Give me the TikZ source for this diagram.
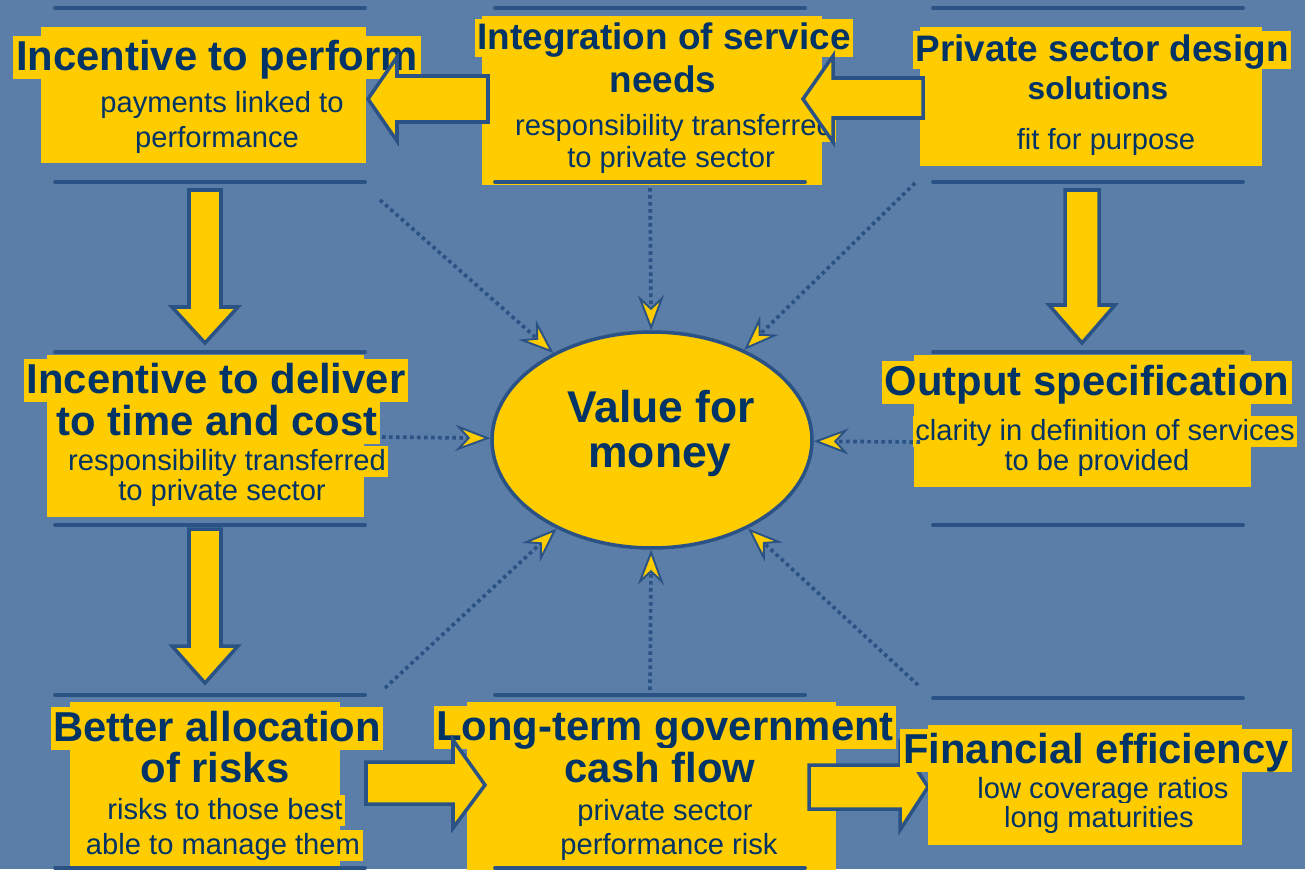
\documentclass[tikz,border=0pt]{standalone}
\usepackage{fontspec}
\setmainfont{Liberation Sans}
\usetikzlibrary{arrows.meta,fit,shapes.geometric}
\definecolor{bgblue}{RGB}{90,126,168}
\definecolor{edgeblue}{RGB}{42,82,132}
\definecolor{vfmyellow}{RGB}{255,204,0}
\definecolor{navy}{RGB}{0,51,102}

\begin{document}
\begin{tikzpicture}[x=0.02cm, y=-0.02cm,
  panel/.style={fill=vfmyellow, inner sep=0pt},
  head/.style={fill=vfmyellow, text=navy, anchor=base, inner xsep=1.5pt, inner ysep=0pt,
    font=\bfseries\fontsize{23.8}{26}\selectfont, text height=19.6pt, text depth=5pt},
  subhead/.style={head, font=\bfseries\fontsize{21}{23}\selectfont, text height=17.2pt, text depth=4.3pt},
  note/.style={head, font=\fontsize{16.6}{18}\selectfont, text height=13.8pt, text depth=4pt},
  hubtext/.style={text=navy, anchor=base, font=\bfseries\fontsize{25.3}{28}\selectfont},
  rule/.style={draw=edgeblue, line width=2.1pt, line cap=round},
  fatarrow/.style={fill=vfmyellow, draw=edgeblue, line width=2pt},
  link/.style={draw=edgeblue, line width=2.1pt, dash pattern=on 2pt off 2pt,
    -{Stealth[length=20pt, width=15pt, inset=7pt, fill=vfmyellow, line width=1.1pt]}},
  hub/.style={ellipse, fill=vfmyellow, draw=edgeblue, line width=2pt,
    minimum width=6.4cm, minimum height=4.32cm}]
  \useasboundingbox (0,0) rectangle (1305,869);
  \fill[bgblue] (0,0) rectangle (1305,869);

  % Incentive to perform
  \node[panel, fit={(41,27) (366,163)}] (perform) {};
  \node[head] (performT) at (217,70) {Incentive to perform};
  \node[note] (performA) at (222,112) {payments linked to};
  \node[note] (performB) at (217,147) {performance};

  % Integration of service needs
  \node[panel, fit={(482,16) (822,185)}] (integr) {};
  \node[subhead] (integrT) at (664,49) {Integration of service};
  \node[subhead] (integrU) at (663,92) {needs};
  \node[note] (integrA) at (674,135) {responsibility transferred};
  \node[note] (integrB) at (671,167) {to private sector};

  % Private sector design solutions
  \node[panel, fit={(920,27) (1262,166)}] (design) {};
  \node[subhead] (designT) at (1102,61) {Private sector design};
  \node[subhead, font=\bfseries\fontsize{18}{20}\selectfont] (designU) at (1098,99) {solutions};
  \node[note] (designA) at (1106,149) {fit for purpose};

  % Incentive to deliver
  \node[panel, fit={(47,355) (364,517)}] (deliver) {};
  \node[head] (deliverT) at (216,393) {Incentive to deliver\ };
  \node[head] (deliverU) at (217,435) {to time and cost};
  \node[note] (deliverA) at (227,470) {responsibility transferred};
  \node[note] (deliverB) at (222,500) {to private sector};

  % Output specification
  \node[panel, fit={(914,355) (1251,487)}] (output) {};
  \node[head] (outputT) at (1087,395) {Output specification};
  \node[note] (outputA) at (1105,440) {clarity in definition of services};
  \node[note] (outputB) at (1097,470) {to be provided};

  % Better allocation of risks
  \node[panel, fit={(70,702) (340,872)}] (risks) {};
  \node[head] (risksT) at (217,741) {Better allocation};
  \node[head] (risksU) at (215,782) {of risks};
  \node[note] (risksA) at (225,819) {risks to those best};
  \node[note] (risksB) at (223,854) {able to manage them};

  % Long-term government cash flow
  \node[panel, fit={(467,702) (836,872)}] (cash) {};
  \node[head] (cashT) at (665,740) {Long-term government};
  \node[head] (cashU) at (660,782) {cash flow};
  \node[note] (cashA) at (665,820) {private sector};
  \node[note] (cashB) at (669,854) {performance risk};

  % rules above and below the boxes
  \foreach \y in {8,182,352,525,695,868} \draw[rule] (55,\y) -- (365,\y);
  \foreach \y in {8,182,695,868} \draw[rule] (495,\y) -- (805,\y);
  \foreach \y in {8,182,352,525,698} \draw[rule] (933,\y) -- (1243,\y);

  % Value for money
  \node[hub] (vfm) at (652,440) {};
  \node[hubtext] (vfmA) at (661,422) {Value for};
  \node[hubtext] (vfmB) at (660,467) {money};

  \coordinate (fromPerform) at (380,200);
  \coordinate (fromIntegr) at (650,188);
  \coordinate (fromDesign) at (915,183);
  \coordinate (fromDeliver) at (382,437);
  \coordinate (fromOutput) at (920,442);
  \coordinate (fromRisks) at (385,688);
  \coordinate (fromCash) at (650,690);
  \coordinate (fromFinance) at (918,685);
  \foreach \c in {fromPerform,fromIntegr,fromDesign,fromDeliver,fromOutput,fromRisks,fromCash,fromFinance}
    \draw[link] (\c) -- (vfm);

  % block arrows
  \draw[fatarrow] (488,76) -- (397,76) -- (397,57) -- (368,99) -- (397,141) -- (397,122) -- (488,122) -- cycle;
  \draw[fatarrow] (923,78) -- (833,78) -- (833,56) -- (803,99) -- (833,142) -- (833,118) -- (923,118) -- cycle;
  \draw[fatarrow] (189,190) -- (189,307) -- (172,307) -- (205,343) -- (238,307) -- (221,307) -- (221,190) -- cycle;
  \draw[fatarrow] (189,529) -- (189,646) -- (172,646) -- (205,683) -- (238,646) -- (221,646) -- (221,529) -- cycle;
  \draw[fatarrow] (1065,190) -- (1065,305) -- (1049,305) -- (1082,343) -- (1115,305) -- (1099,305) -- (1099,190) -- cycle;
  \draw[fatarrow] (366,762) -- (453,762) -- (453,740) -- (485,785) -- (453,828) -- (453,804) -- (366,804) -- cycle;
  \draw[fatarrow] (809,765) -- (900,765) -- (900,744) -- (928,787) -- (900,830) -- (900,809) -- (809,809) -- cycle;

  % Financial efficiency
  \node[panel, fit={(928,725) (1242,845)}] (finance) {};
  \node[head] (financeT) at (1096,763) {Financial efficiency};
  \node[note] (financeA) at (1103,798) {low coverage ratios};
  \node[note] (financeB) at (1099,827) {long maturities};
\end{tikzpicture}
\end{document}
